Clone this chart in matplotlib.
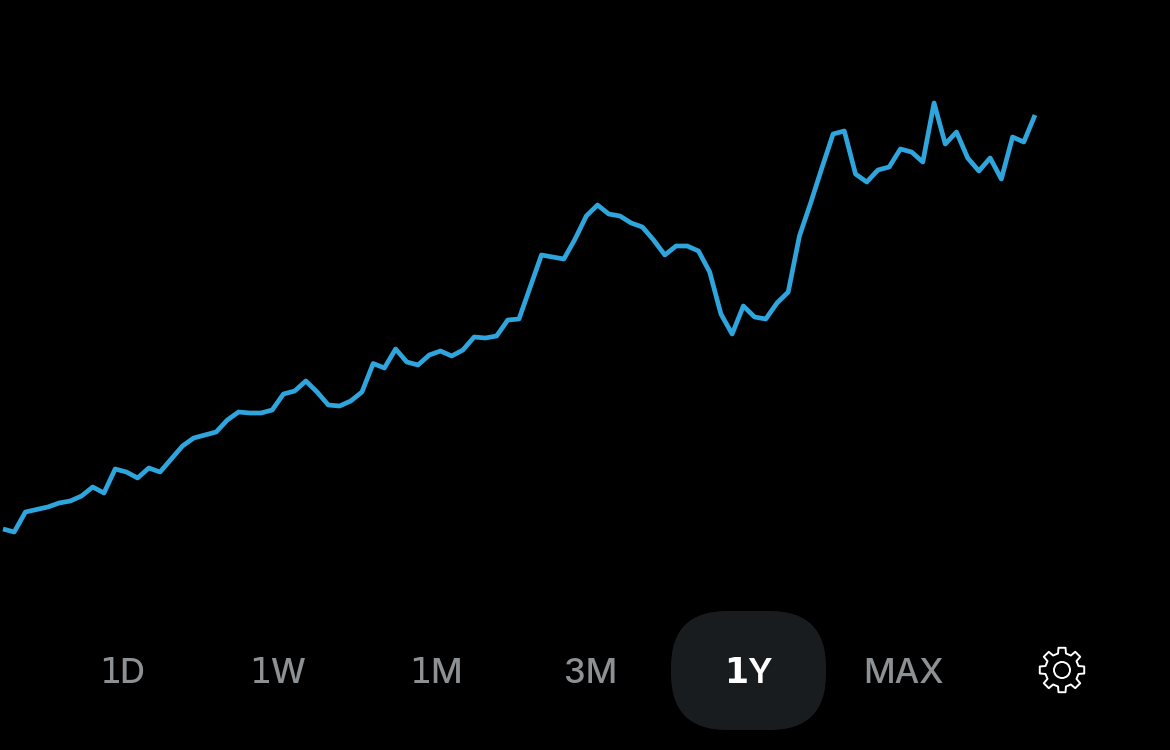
import numpy as np
import matplotlib
matplotlib.use("Agg")
import matplotlib.pyplot as plt
from matplotlib.patches import FancyBboxPatch, Circle, Polygon

# Series: height above the figure's lower edge (in chart units)
prices = [750 - y for y in [
    529,532,512,509.5,507,503,501,496,487,493,
    469,472,478,468,472,459,446,438,435,432,
    420,412,413,413,410,394,391,381,392,405,
    406,401,392,363.5,368,349,362,365,355,351,
    356,350,337,338,336,320,319,287,255,257,
    259,239,216,205,214,216,223,227,240,255,
    246,246,251,272,314,334,306,317,319,303,
    292,236,203,168,134,131,174,182,170,167,
    149,152,162,103,144,132,158,171,158,179,
    137,142,115]]
ranges = ["1D", "1W", "1M", "3M", "1Y", "MAX"]
range_centers = [121.5, 277, 435.5, 591, 748, 904]
active_range = "1Y"

W, H = 1170, 750
fig = plt.figure(figsize=(W / 100, H / 100), dpi=100, facecolor="black")

# Line chart axes, stretched so that index 0 sits at px 3 and the last at px 1035
step = (1035 - 3) / (len(prices) - 1)
ax = fig.add_axes([0, 0, 1, 1])
ax.set_xlim(-3 / step, (W - 3) / step)
ax.set_ylim(0, H)
ax.axis("off")
ax.plot(range(len(prices)), prices, color="#2ea5dc", lw=3.4,
        solid_joinstyle="round", solid_capstyle="butt")

# Overlay for the range selector, in pixels with y downward
ui = fig.add_axes([0, 0, 1, 1], facecolor="none")
ui.set_xlim(0, W)
ui.set_ylim(H, 0)
ui.axis("off")

ui.add_patch(FancyBboxPatch((671 + 56, 611 + 56), 155 - 112, 119 - 112,
                            boxstyle="round,pad=56,rounding_size=56",
                            fc="#191c1e", ec="none"))

baseline = 683
renderer = fig.canvas.get_renderer()
for label, cx in zip(ranges, range_centers):
    on = label == active_range
    color = "white" if on else "#8d9194"
    weight = "semibold" if on else "medium"
    if label.startswith("1"):
        # The source font's "1" has a foot serif, so it is set in DejaVu Sans
        rest = ui.text(0, baseline, label[1:], ha="left", va="baseline",
                       family="Inter", fontsize=25, fontweight=weight, color=color)
        one = ui.text(0, baseline, "1", ha="right", va="baseline",
                      family="DejaVu Sans", fontsize=25,
                      fontweight="bold" if on else "normal", color=color)
        w_rest = rest.get_window_extent(renderer).width
        w_one = one.get_window_extent(renderer).width
        left = cx - (w_one + w_rest) / 2 + 1
        one.set_x(left + w_one)
        rest.set_x(left + w_one - 2)
    else:
        ui.text(cx, baseline, label, ha="center", va="baseline",
                family="Inter", fontsize=25, fontweight=weight, color=color)

# Settings gear icon
cx, cy, r_out, r_in = 1062, 670, 22.5, 17
pts = []
for k in range(8):
    a = np.deg2rad(-90 + k * 45)
    for d, r in [(-13.5, r_in), (-9, r_out), (9, r_out), (13.5, r_in)]:
        t = a + np.deg2rad(d)
        pts.append((cx + r * np.cos(t), cy + r * np.sin(t)))
ui.add_patch(Polygon(pts, closed=True, fc="none", ec="white", lw=1.4, joinstyle="round"))
ui.add_patch(Circle((cx, cy), 8, fc="none", ec="white", lw=1.4))

fig.savefig("out.png", dpi=100, facecolor="black")
